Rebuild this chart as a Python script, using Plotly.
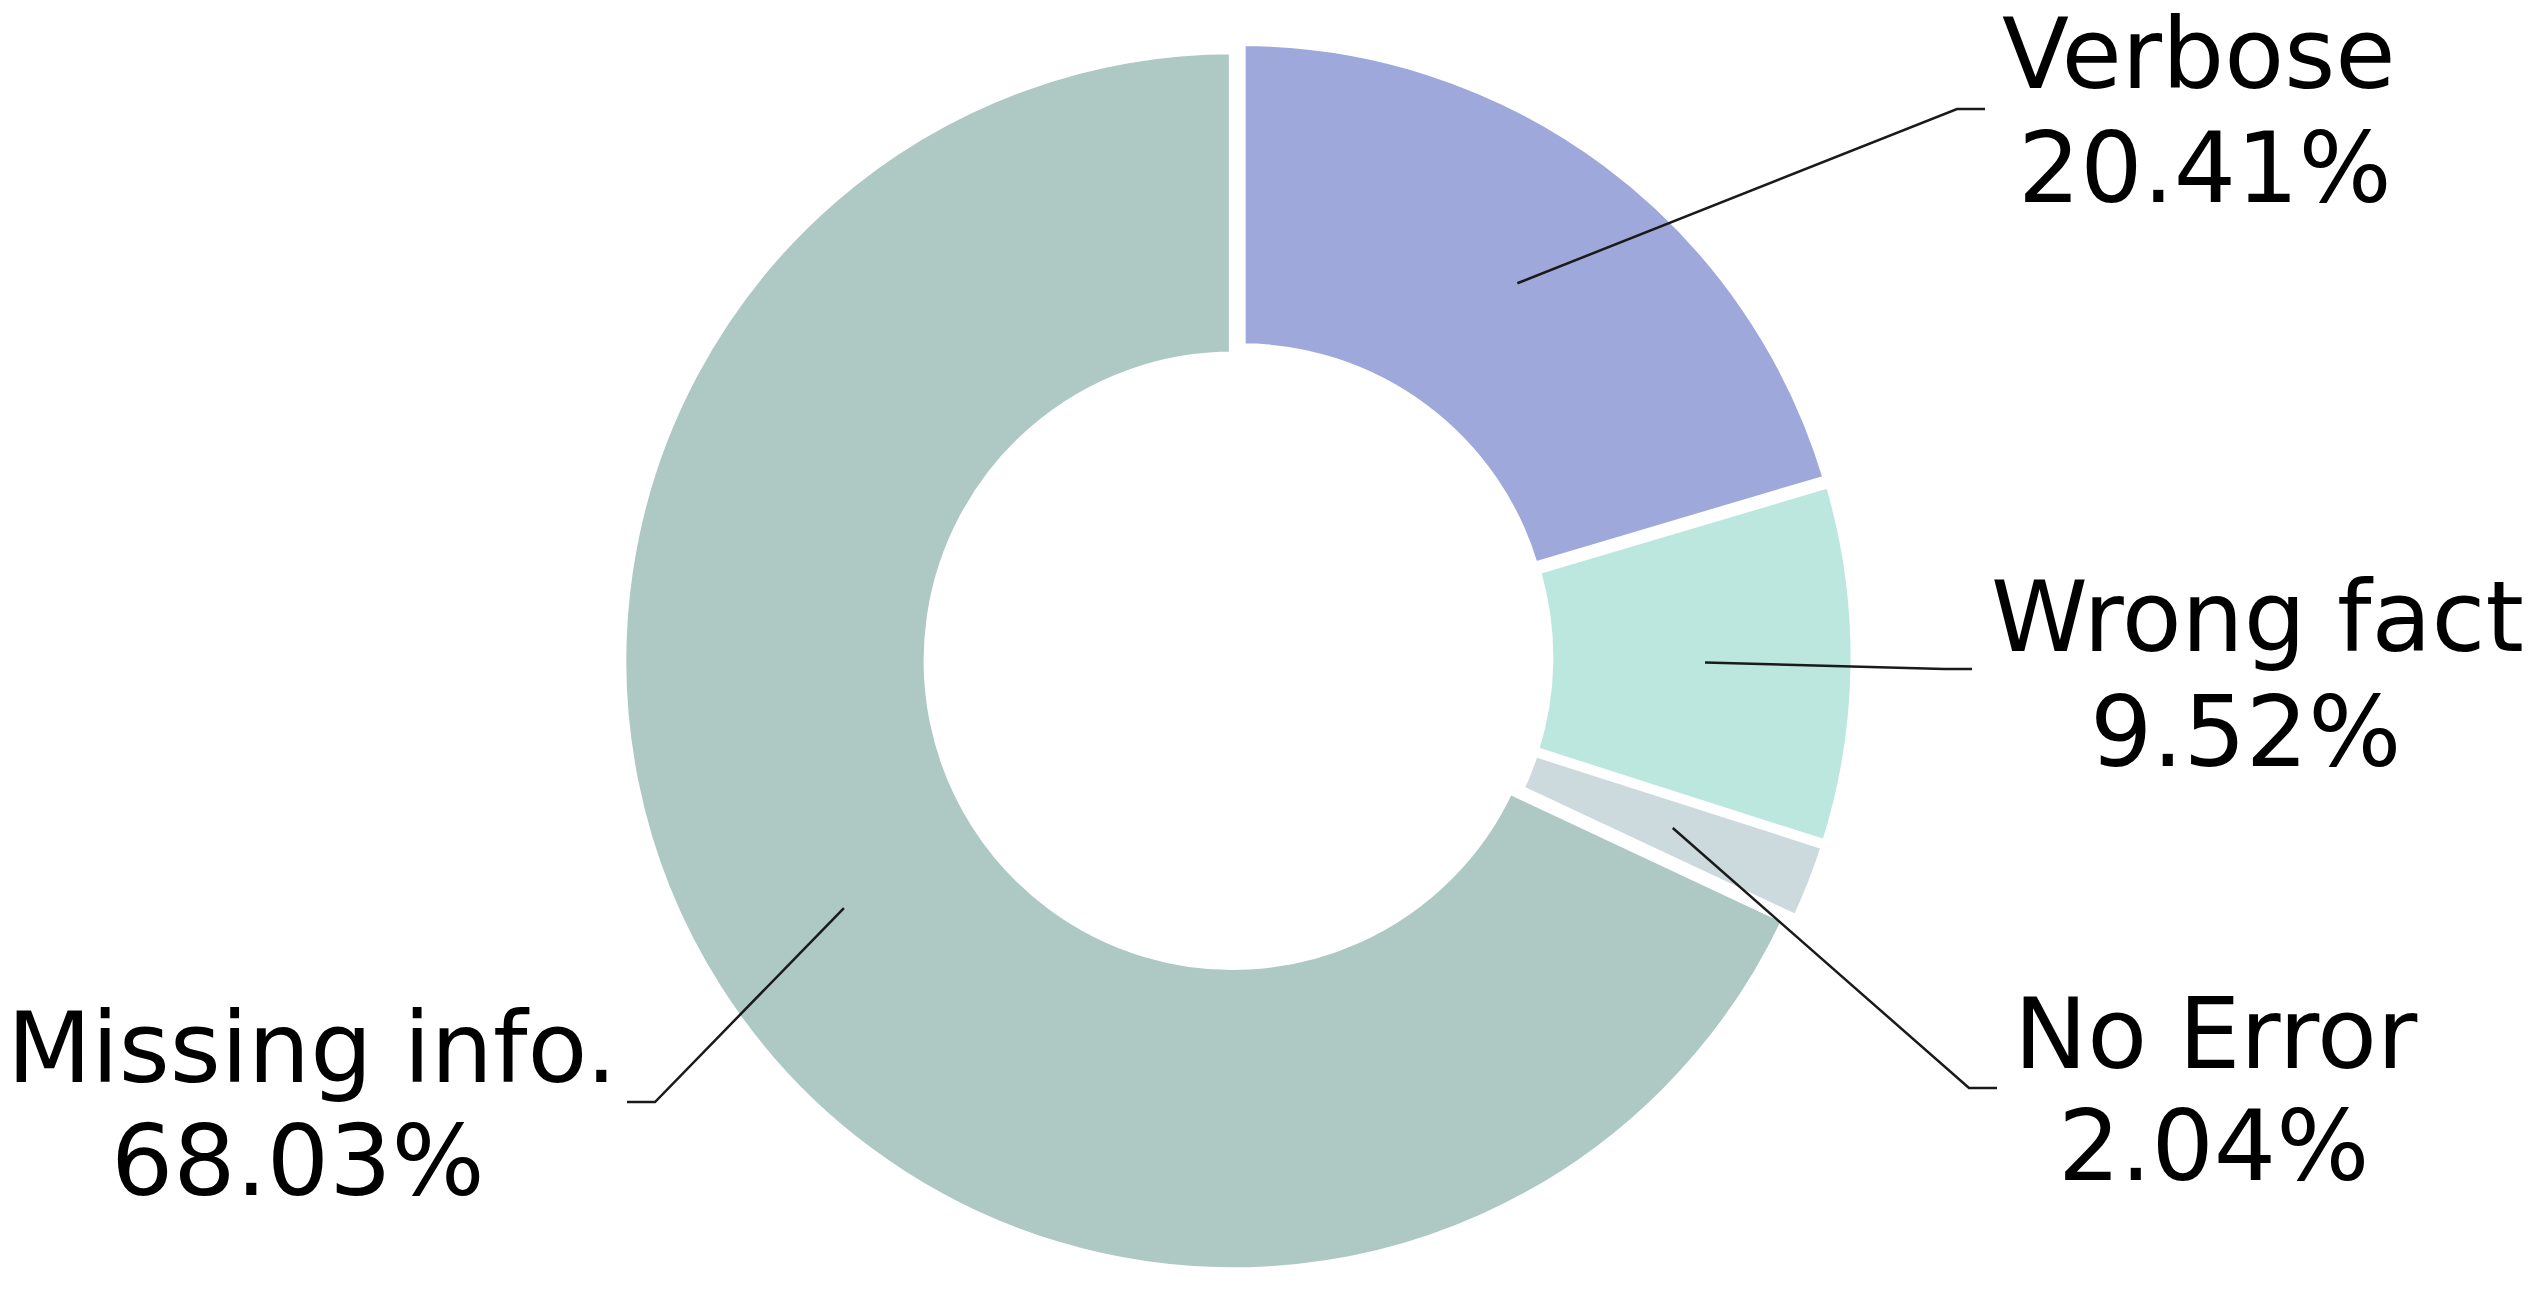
import math
import plotly.graph_objects as go

# ---- data ----
labels = ["Verbose", "Wrong fact", "No Error", "Missing info."]
values = [20.41, 9.52, 2.04, 68.03]
colors = ["#9FA8DA", "#BBE7DE", "#CCD9DD", "#AEC8C4"]

# ---- layout constants (pixels in the 2538x1292 canvas) ----
W, H = 2538, 1292
CX, CY = 1238.0, 657.5          # pie centre
R = 610.5                        # pie radius
PULL = 0.01
LINE_W = 8
HOLE = 0.5
ANCHOR_FRAC = 0.765
FS = 98
BASE_OFF = 0.346                 # baseline offset below box centre (em)

label_x1 = [2199, 2257, 2216, 312]
label_x2 = [2205, 2245, 2213, 298]
base1 = [88, 651, 1068, 1082]
base2 = [202, 765.5, 1180, 1195]
line_end = [(1985, 109), (1972, 669), (1997, 1088), (627, 1102)]
elbow_dx = 28


def px(x):
    return x / W


def py(y):
    return 1 - y / H


half = R * (1 + PULL)
fig = go.Figure(go.Pie(
    labels=labels,
    values=values,
    sort=False,
    direction="clockwise",
    rotation=0,
    hole=HOLE,
    pull=[PULL] * len(values),
    marker=dict(colors=colors, line=dict(color="white", width=LINE_W)),
    textinfo="none",
    hoverinfo="label+percent",
    showlegend=False,
    domain=dict(x=[(CX - half) / W, (CX + half) / W],
                y=[(H - CY - half) / H, (H - CY + half) / H]),
))

total = sum(values)
shapes = []
annotations = []
cum = 0.0
for i, (lab, v) in enumerate(zip(labels, values)):
    mid = cum + v / 2
    cum += v
    ang = math.radians(90 - 360 * mid / total)
    ax = CX + ANCHOR_FRAC * R * math.cos(ang)
    ay = CY - ANCHOR_FRAC * R * math.sin(ang)
    ex, ey = line_end[i]
    side = 1 if ex > CX else -1
    kx = ex - side * elbow_dx
    path = f"M {px(ax)},{py(ay)} L {px(kx)},{py(ey)} L {px(ex)},{py(ey)}"
    shapes.append(dict(type="path", xref="paper", yref="paper", path=path,
                       line=dict(color="#1a1a1a", width=2.5), layer="above"))
    for txt, x, b in ((lab, label_x1[i], base1[i]),
                      (f"{v:.2f}%", label_x2[i], base2[i])):
        annotations.append(dict(
            text=txt, x=px(x), y=py(b - BASE_OFF * FS), xref="paper", yref="paper",
            xanchor="center", yanchor="middle", showarrow=False,
            font=dict(family="DejaVu Sans", size=FS, color="black")))

fig.update_layout(
    width=W, height=H,
    margin=dict(l=0, r=0, t=0, b=0),
    paper_bgcolor="white",
    plot_bgcolor="white",
    shapes=shapes,
    annotations=annotations,
)
fig.write_html("out.html",
               config={"displayModeBar": False},
               post_script="document.body.style.margin='0';"
                           "document.body.style.overflow='hidden';")
